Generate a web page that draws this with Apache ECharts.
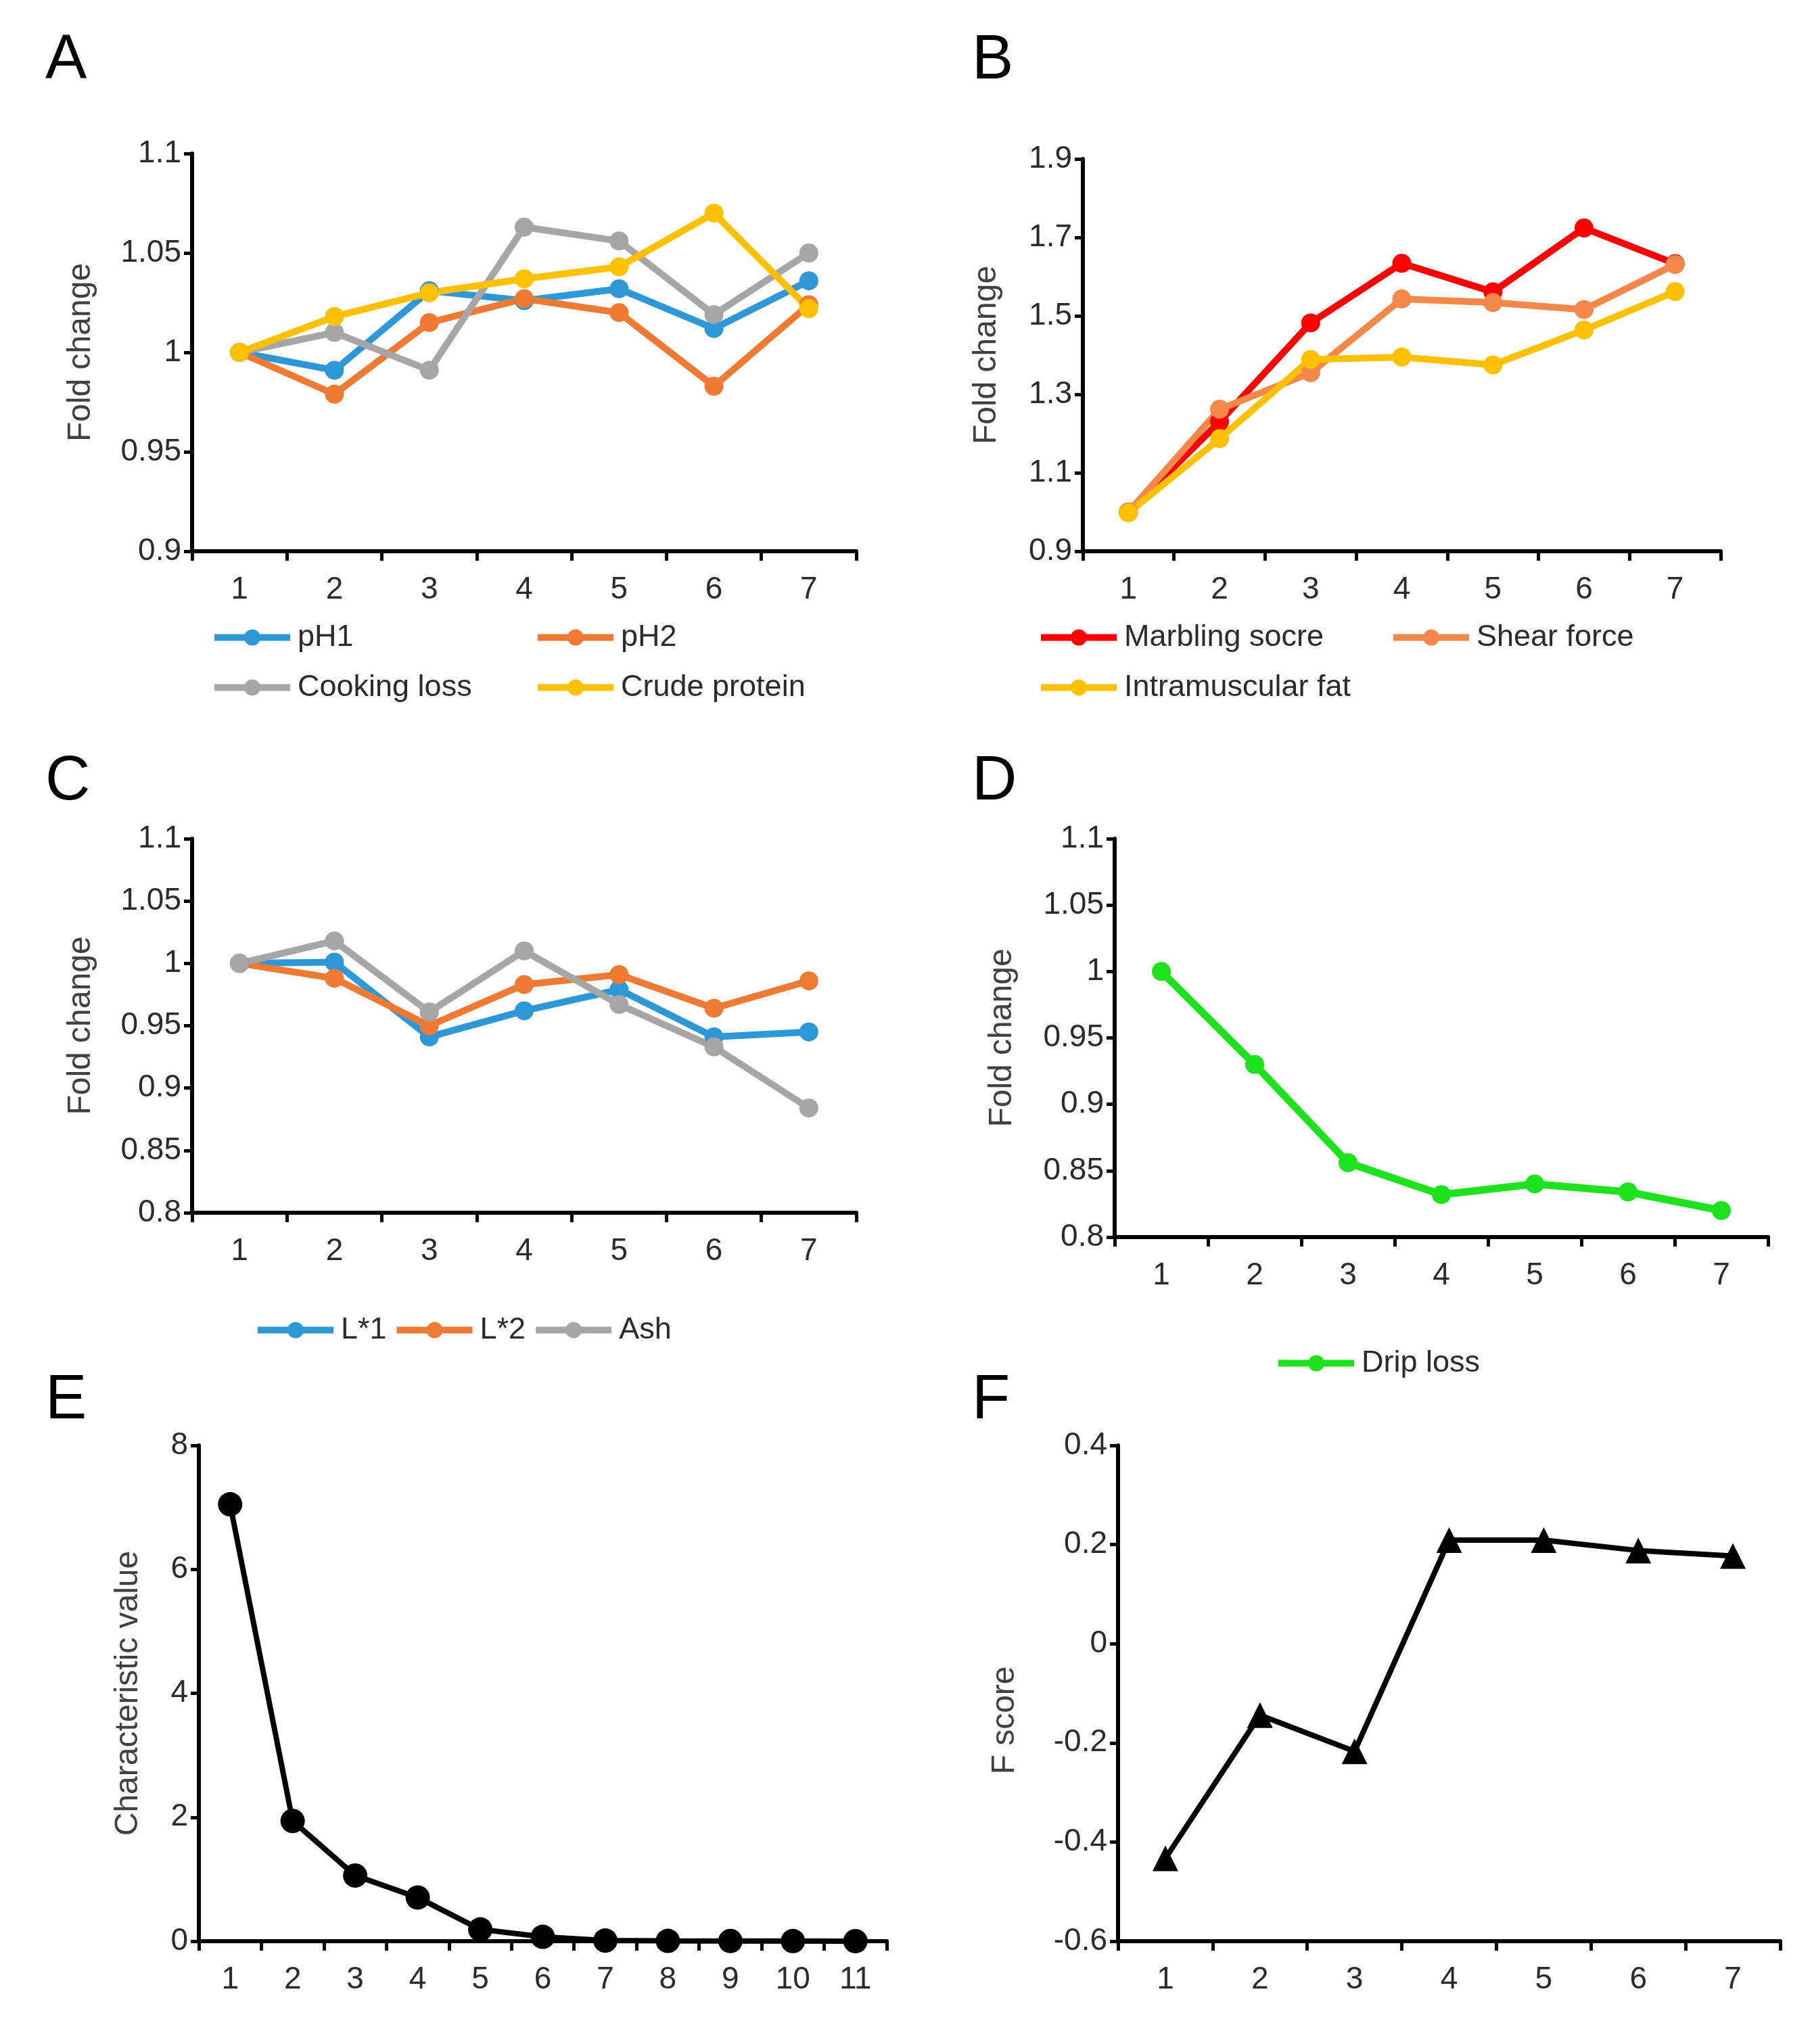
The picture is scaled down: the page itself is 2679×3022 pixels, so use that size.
<!DOCTYPE html>
<html>
<head>
<meta charset="utf-8">
<script src="https://cdn.jsdelivr.net/npm/echarts@6/dist/echarts.min.js"></script>
<style>
html, body { margin: 0; padding: 0; background: #fff; }
#main { width: 2679px; height: 3022px; }
</style>
</head>
<body>
<div id="main"></div>
<script>
// x categories
var stages = ['1', '2', '3', '4', '5', '6', '7'];
var components = ['1', '2', '3', '4', '5', '6', '7', '8', '9', '10', '11'];

// A
var ph1 = [1.0, 0.991, 1.031, 1.026, 1.032, 1.012, 1.036];
var ph2 = [1.0, 0.979, 1.015, 1.027, 1.020, 0.983, 1.024];
var cookingLoss = [1.0, 1.010, 0.991, 1.063, 1.056, 1.019, 1.050];
var crudeProtein = [1.0, 1.018, 1.030, 1.037, 1.043, 1.070, 1.022];
// B
var marbling = [1.0, 1.23, 1.482, 1.634, 1.561, 1.724, 1.633];
var shearForce = [1.0, 1.262, 1.355, 1.543, 1.534, 1.516, 1.631];
var imFat = [0.998, 1.187, 1.389, 1.395, 1.375, 1.464, 1.562];
// C
var l1 = [1.0, 1.001, 0.941, 0.962, 0.979, 0.941, 0.945];
var l2 = [1.0, 0.988, 0.950, 0.983, 0.991, 0.964, 0.986];
var ash = [1.0, 1.018, 0.961, 1.010, 0.967, 0.933, 0.884];
// D
var dripLoss = [1.0, 0.930, 0.856, 0.832, 0.840, 0.834, 0.820];
// E
var eigenValues = [7.05, 1.94, 1.06, 0.705, 0.19, 0.07, 0.01, 0.005, 0.003, 0.002, 0.001];
// F
var fScore = [-0.433, -0.144, -0.217, 0.209, 0.209, 0.188, 0.177];

// tick labels
var ticksA = [0.9, 0.95, 1, 1.05, 1.1];
var ticksB = [0.9, 1.1, 1.3, 1.5, 1.7, 1.9];
var ticksCD = [0.8, 0.85, 0.9, 0.95, 1, 1.05, 1.1];
var ticksE = [0, 2, 4, 6, 8];
var ticksF = [-0.6, -0.4, -0.2, 0, 0.2, 0.4];

var FONT = '"Liberation Sans", Arial, sans-serif';
var NARROW = '"Liberation Sans Narrow", "Liberation Sans", Arial, sans-serif';
var TEXT = '#2b2b2b';

var grids = [
	{ left: 284, top: 227, width: 982, height: 588 },   // A
	{ left: 1601, top: 235, width: 943, height: 580 },  // B
	{ left: 284, top: 1240, width: 982, height: 553 },  // C
	{ left: 1648, top: 1240, width: 966, height: 589 }, // D
	{ left: 294, top: 2137, width: 1017, height: 733 }, // E
	{ left: 1653, top: 2137, width: 979, height: 733 }  // F
];

function xAxisFor(i, cats, font) {
	return {
		type: 'category',
		gridIndex: i,
		data: cats,
		boundaryGap: true,
		axisLine: { onZero: false, lineStyle: { color: '#000', width: 6 } },
		axisTick: { show: true, length: 14, lineStyle: { color: '#000', width: 5 } },
		axisLabel: { color: TEXT, fontSize: 46, fontFamily: font, margin: 34 },
		splitLine: { show: false }
	};
}

function yAxisFor(i, min, max, ticks, name, gap, font, namePad) {
	return {
		type: 'value',
		gridIndex: i,
		min: min,
		max: max,
		name: name,
		nameLocation: 'middle',
		nameGap: gap,
		nameTextStyle: { color: '#404040', fontSize: 48, fontFamily: FONT, padding: namePad || 0 },
		axisLine: { show: true, onZero: false, lineStyle: { color: '#000', width: 6 } },
		axisTick: { show: true, length: 12, customValues: ticks, lineStyle: { color: '#000', width: 5 } },
		axisLabel: { color: TEXT, fontSize: 46, fontFamily: font, margin: 16, customValues: ticks },
		splitLine: { show: false }
	};
}

function lineSeries(name, i, values, color, opts) {
	opts = opts || {};
	return {
		name: name,
		type: 'line',
		xAxisIndex: i,
		yAxisIndex: i,
		data: values,
		symbol: opts.symbol || 'circle',
		symbolSize: opts.size || 28,
		showAllSymbol: true,
		color: color,
		lineStyle: { color: color, width: opts.width || 10 },
		itemStyle: { color: color },
		animation: false
	};
}

function legendFor(names, left, top, orient) {
	return {
		data: names,
		left: left,
		top: top,
		padding: 0,
		orient: orient || 'vertical',
		itemWidth: 112,
		itemHeight: 30,
		itemGap: orient === 'horizontal' ? 10 : 29,
		lineStyle: { width: 10 },
		textStyle: { color: TEXT, fontSize: 45, fontFamily: FONT, padding: [0, 0, 0, 6] }
	};
}

function letter(t, left, top) {
	return { text: t, left: left, top: top, textStyle: { color: '#000', fontSize: 92, fontWeight: 'normal', fontFamily: FONT } };
}

var blue = '#2e98d6', orange = '#ee7a34', grey = '#a6a6a6', gold = '#ffc000';
var red = '#ff0000', lightOrange = '#f4884a', green = '#1ee21e';

var chart = echarts.init(document.getElementById('main'), null, { renderer: 'canvas' });
chart.setOption({
	backgroundColor: '#fff',
	animation: false,
	title: [
		letter('A', 62, 40), letter('B', 1432, 40),
		letter('C', 62, 1106), letter('D', 1432, 1106),
		letter('E', 62, 2021), letter('F', 1432, 2021)
	],
	grid: grids,
	legend: [
		legendFor(['pH1', 'Cooking loss'], 312, 920),
		legendFor(['pH2', 'Crude protein'], 790, 920),
		legendFor(['Marbling socre', 'Intramuscular fat'], 1534, 920),
		legendFor(['Shear force'], 2055, 920),
		legendFor(['L*1', 'L*2', 'Ash'], 376, 1944, 'horizontal'),
		legendFor(['Drip loss'], 1885, 1993)
	],
	xAxis: [
		xAxisFor(0, stages, FONT),
		xAxisFor(1, stages, FONT),
		xAxisFor(2, stages, FONT),
		xAxisFor(3, stages, FONT),
		xAxisFor(4, components, NARROW),
		xAxisFor(5, stages, NARROW)
	],
	yAxis: [
		yAxisFor(0, 0.9, 1.1, ticksA, 'Fold change', 140, FONT),
		yAxisFor(1, 0.9, 1.9, ticksB, 'Fold change', 118, FONT),
		yAxisFor(2, 0.8, 1.1, ticksCD, 'Fold change', 140, FONT),
		yAxisFor(3, 0.8, 1.1, ticksCD, 'Fold change', 142, FONT),
		yAxisFor(4, 0, 8, ticksE, 'Characteristic value', 80, NARROW),
		yAxisFor(5, -0.6, 0.4, ticksF, 'F score', 143, NARROW, [0, 80, 0, 0])
	],
	series: [
		lineSeries('pH1', 0, ph1, blue),
		lineSeries('pH2', 0, ph2, orange),
		lineSeries('Cooking loss', 0, cookingLoss, grey),
		lineSeries('Crude protein', 0, crudeProtein, gold),
		lineSeries('Marbling socre', 1, marbling, red),
		lineSeries('Shear force', 1, shearForce, lightOrange),
		lineSeries('Intramuscular fat', 1, imFat, gold),
		lineSeries('L*1', 2, l1, blue),
		lineSeries('L*2', 2, l2, orange),
		lineSeries('Ash', 2, ash, grey),
		lineSeries('Drip loss', 3, dripLoss, green, { width: 11 }),
		lineSeries('Characteristic value', 4, eigenValues, '#000', { size: 36, width: 8 }),
		lineSeries('F score', 5, fScore, '#000', { symbol: 'triangle', size: 38, width: 8 })
	]
});
</script>
</body>
</html>
